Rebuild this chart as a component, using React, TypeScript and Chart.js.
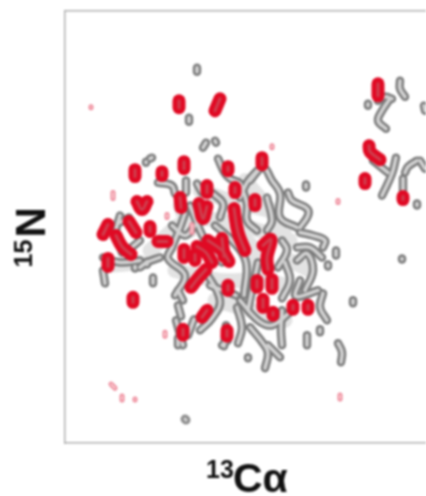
import React, { useEffect, useRef } from "react";
import { Chart, registerables } from "chart.js";

Chart.register(...registerables);

// Every ridge / peak is a flat x,y,x,y... trace in the spectrum's own reading frame.
const hazeRidges: number[][] = [
  [150, 250, 190, 220, 240, 225, 290, 240], [175, 270, 220, 280, 265, 280, 300, 290],
  [200, 190, 230, 200, 270, 210], [215, 300, 250, 310, 285, 320], [110, 265, 140, 262],
  [245, 180, 262, 200, 285, 228], [240, 235, 256, 252, 252, 275], [180, 205, 190, 230], [290, 260, 310, 270],
];

const greyRidges: number[][] = [
  [197, 67, 197, 71], [189, 117, 189, 121], [206, 142, 203, 147], [215, 140, 216, 142],
  [150, 158, 152, 157], [146, 161, 146, 162],
  [400, 80, 400, 88, 405, 96], [390, 98, 382, 110, 378, 120, 386, 128], [368, 103, 368, 105],
  [396, 157, 392, 173, 382, 195], [405, 172, 408, 166, 417, 160], [403, 178, 403, 190], [417, 203, 417, 205], [402, 258, 402, 259],
  [420, 160, 425, 168], [424, 105, 425, 110], [373, 160, 388, 172], [378, 100, 385, 96, 392, 98],
  [237, 307, 242, 327, 238, 343], [250, 327, 263, 343, 268, 353, 265, 368], [268, 345, 280, 357],
  [282, 310, 281, 330, 282, 345], [307, 335, 307, 345], [320, 329, 320, 332], [338, 343, 342, 352, 341, 362],
  [353, 300, 353, 303], [323, 293, 320, 307, 327, 320], [336, 250, 336, 255], [328, 264, 328, 266],
  [178, 305, 181, 316], [153, 277, 153, 283], [248, 357, 248, 358], [194, 319, 188, 335], [228, 340, 222, 345],
  [178, 338, 178, 345], [147, 261, 147, 264], [135, 266, 135, 268], [103, 270, 105, 283], [103, 257, 120, 262, 140, 260],
  [178, 290, 183, 300], [129, 217, 118, 223], [158, 182, 172, 185, 175, 193], [185, 213, 180, 227, 172, 247],
  [160, 257, 147, 262, 140, 267], [218, 158, 225, 173, 230, 178, 240, 183, 243, 193], [257, 170, 247, 182, 240, 197],
  [213, 193, 223, 203, 220, 217], [197, 183, 202, 192], [306, 184, 306, 187], [288, 192, 292, 200, 307, 208, 308, 215, 300, 227],
  [300, 232, 313, 235, 325, 240, 323, 247], [297, 247, 310, 247, 322, 257], [250, 180, 263, 167, 272, 180, 280, 193, 280, 217, 297, 227],
  [267, 197, 272, 220, 267, 230], [240, 183, 247, 203, 247, 220, 257, 230], [282, 240, 287, 250, 278, 267],
  [297, 260, 307, 253, 313, 270, 305, 290], [205, 270, 220, 300, 212, 318, 200, 330], [258, 262, 252, 290, 248, 310],
  [300, 280, 296, 296, 318, 290], [210, 285, 236, 295], [240, 300, 258, 320, 272, 325, 290, 312],
  [172, 247, 168, 258, 185, 275, 175, 295], [190, 205, 205, 240, 222, 262], [215, 225, 232, 240, 246, 262, 244, 295],
  [172, 225, 185, 235, 195, 225], [285, 262, 290, 280, 282, 298],
  [120, 215, 116, 232, 122, 252], [128, 250, 140, 240], [186, 180, 186, 192], [176, 320, 183, 345], [226, 325, 224, 346],
];

const redPeaks: number[][] = [
  [179, 100, 179, 107], [220, 98, 215, 110],
  [135, 169, 135, 176], [162, 171, 162, 175], [184, 161, 184, 168], [262, 157, 262, 164], [228, 166, 228, 170],
  [137, 201, 142, 209, 147, 201], [180, 197, 181, 207], [207, 185, 207, 192], [199, 203, 203, 218, 207, 206],
  [235, 187, 235, 192], [108, 224, 103, 234], [129, 221, 136, 232], [150, 226, 150, 231],
  [116, 235, 122, 246, 131, 254], [158, 241, 167, 241], [108, 258, 108, 266], [184, 249, 184, 257], [195, 254, 195, 260],
  [208, 240, 222, 250, 229, 261], [222, 238, 224, 256], [234, 208, 238, 232, 245, 250], [197, 246, 206, 252, 212, 262],
  [255, 199, 255, 205], [263, 245, 271, 239, 267, 257, 268, 269], [272, 279, 272, 288], [257, 280, 257, 287], [228, 285, 228, 290],
  [206, 269, 198, 278, 191, 287], [263, 299, 263, 307], [273, 312, 273, 315], [293, 305, 293, 309], [308, 305, 308, 309],
  [207, 310, 202, 317], [183, 329, 183, 335], [227, 330, 227, 336], [133, 297, 133, 302],
  [378, 83, 378, 95], [369, 145, 370, 151, 380, 159], [365, 178, 365, 183], [403, 196, 403, 199],
];

const faintPeaks: number[][] = [
  [113, 192, 113, 198], [165, 332, 165, 336], [122, 396, 122, 400], [340, 395, 340, 399],
  [111, 384, 115, 388], [135, 399, 135, 400], [91, 106, 91, 107], [192, 224, 192, 232], [167, 214, 167, 217],
  [338, 200, 338, 202], [272, 145, 272, 147],
];

const bottomMark: number[][] = [[185, 419, 186, 420]];

const xAxisLabel = ["13", "Cα"];
const yAxisLabel = ["15", "N"];
const xRange = [65, 426];
const yRange = [10, 443];

type Layer = { traces: number[][]; color: string; width: number };
const layers: Layer[] = [
  { traces: hazeRidges, color: "#e3e3e3", width: 15 },
  { traces: greyRidges, color: "#7c7c7c", width: 8.5 },
  { traces: greyRidges, color: "#d2d2d2", width: 3.5 },
  { traces: bottomMark, color: "#8e8e8e", width: 9 },
  { traces: bottomMark, color: "#d5d5d5", width: 3 },
  { traces: faintPeaks, color: "#ee8a9a", width: 5 },
  { traces: faintPeaks, color: "#fbd8dd", width: 1.5 },
  { traces: redPeaks, color: "#e00a24", width: 13 },
  { traces: redPeaks, color: "#cf3f4e", width: 3 },
];

const toPoints = (t: number[]) => {
  const pts: { x: number; y: number }[] = [];
  for (let i = 0; i < t.length; i += 2) pts.push({ x: t[i], y: t[i + 1] });
  return pts;
};

const axisLabels = {
  id: "axisLabels",
  afterDraw(chart: any) {
    const { ctx, scales } = chart;
    const px = (v: number) => scales.x.getPixelForValue(v);
    const py = (v: number) => scales.y.getPixelForValue(v);
    ctx.save();
    ctx.fillStyle = "#111";
    ctx.textBaseline = "alphabetic";
    ctx.font = "bold 25px 'Liberation Sans'";
    ctx.fillText(xAxisLabel[0], px(206), py(478));
    ctx.font = "bold 41px 'Liberation Sans'";
    ctx.fillText(xAxisLabel[1], px(233), py(492));
    ctx.translate(px(45), py(237));
    ctx.rotate(-Math.PI / 2);
    ctx.font = "bold 42px 'Liberation Sans'";
    ctx.fillText(yAxisLabel[1], 0, 0);
    ctx.font = "bold 25px 'Liberation Sans'";
    ctx.fillText(yAxisLabel[0], -30, -13);
    ctx.restore();
  },
};

export default function App() {
  const ref = useRef<HTMLCanvasElement>(null);
  useEffect(() => {
    const datasets: any[] = [];
    layers.forEach((l) =>
      l.traces.forEach((t) =>
        datasets.push({
          data: toPoints(t),
          borderColor: l.color,
          borderWidth: l.width,
          borderCapStyle: "round",
          borderJoinStyle: "round",
          tension: 0.4,
          pointRadius: 0,
          clip: false,
        })
      )
    );
    datasets.reverse();
    const hidden = { display: false };
    const chart = new Chart(ref.current!, {
      type: "line",
      data: { datasets },
      plugins: [axisLabels],
      options: {
        animation: false,
        responsive: false,
        parsing: false,
        normalized: true,
        layout: { padding: { left: 57, top: 3, bottom: 45, right: 0 } },
        plugins: { legend: hidden, tooltip: { enabled: false } },
        scales: {
          x: {
            type: "linear", min: xRange[0], max: xRange[1],
            ticks: hidden, grid: hidden,
            border: { display: true, color: "#b0b0b0", width: 1.5 },
          },
          xTop: {
            type: "linear", position: "top", min: xRange[0], max: xRange[1], display: true,
            ticks: hidden, grid: hidden,
            border: { display: true, color: "#b0b0b0", width: 1.5 },
          },
          y: {
            type: "linear", reverse: true, min: yRange[0], max: yRange[1],
            ticks: hidden, grid: hidden,
            border: { display: true, color: "#b0b0b0", width: 1.5 },
          },
        },
      } as any,
    });
    return () => chart.destroy();
  }, []);
  return (
    <div style={{ position: "absolute", left: 0, top: 0, width: 426, height: 496, overflow: "hidden", background: "#fff" }}>
      <canvas ref={ref} width={426} height={496} style={{ display: "block", filter: "blur(0.8px)" }} />
    </div>
  );
}
